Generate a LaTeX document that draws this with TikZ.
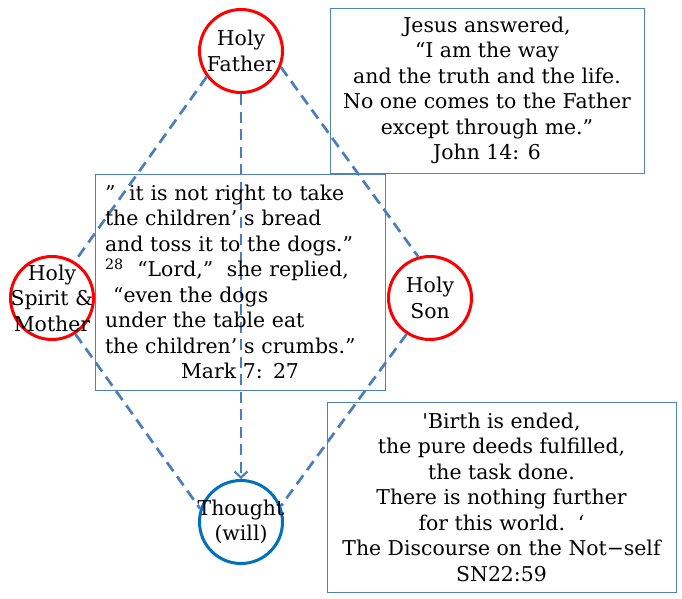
\documentclass[tikz,border=0pt]{standalone}
\usepackage{fontspec}
\setmainfont{DejaVu Serif}[Ligatures=TeXOff]
\usepackage{tikz}
\usetikzlibrary{arrows.meta}
\usepackage{xcolor}
\definecolor{linkBlue}{HTML}{4A7EBB}
\definecolor{personRed}{HTML}{FF0000}
\definecolor{willBlue}{HTML}{0070C0}
\definecolor{frameBlue}{HTML}{4F81BD}

\begin{document}
\begin{tikzpicture}[x=1pt, y=-1pt,
    every node/.style={font=\fontsize{20.4}{25.5}\selectfont},
    every label/.style={align=center, inner sep=0pt},
    person/.style={circle, draw=personRed, line width=3pt, minimum size=83pt, inner sep=0pt},
    quotebox/.style={draw=frameBlue, line width=1pt, inner sep=0pt, align=center},
    link/.style={linkBlue, line width=2.7pt, dash pattern=on 11pt off 6.5pt}]
    \useasboundingbox (0,0) rectangle (682,598);
    % the four persons
    \node[person, label=center:{Holy\\Father}] (father) at (241,51) {};
    \node[person, label=center:{Holy\\Spirit \&\\Mother}] (spirit) at (52,298) {};
    \node[person, label=center:{Holy\\Son}] (son) at (430,298) {};
    \node[person, draw=willBlue, label=center:{Thought\\(will)}] (thought) at (241,522) {};
    % dashed links
    \draw[link] (father.217) -- (spirit.58);
    \draw[link] (father.-22) -- (son.106);
    \draw[link] (spirit.-57) -- (thought.162);
    \draw[link] (son.237) -- (thought.22);
    \draw[link, -{Straight Barb[length=6pt, width=13pt, line width=2.2pt]}] (father.south) -- (thought.north);
    % the three quotes
    \node[quotebox, minimum width=314pt, minimum height=165pt] (john) at (487,90.5)
        {Jesus answered,\\ “I am the way\\and the truth and the life.\\No one comes to the Father\\except through me.”\\John 14: 6};
    \node[quotebox, minimum width=290pt, minimum height=216pt, text width=270pt, align=left] (mark) at (240,282)
        {”\ \ it is not right to take\\the children’ s bread\\and toss it to the dogs.”\\\textsuperscript{28}\ \ “Lord,”\ \ she replied,\\\hspace*{0.4em}“even the dogs\\under the table eat\\the children’ s crumbs.”\par\centering Mark 7: 27\par};
    \node[quotebox, minimum width=349pt, minimum height=190pt] (sutta) at (501.5,497)
        {'Birth is ended,\\the pure deeds fulfilled,\\the task done.\\There is nothing further\\for this world.\ \ ‘\\The Discourse on the Not−self\\SN22:59};
\end{tikzpicture}
\end{document}
